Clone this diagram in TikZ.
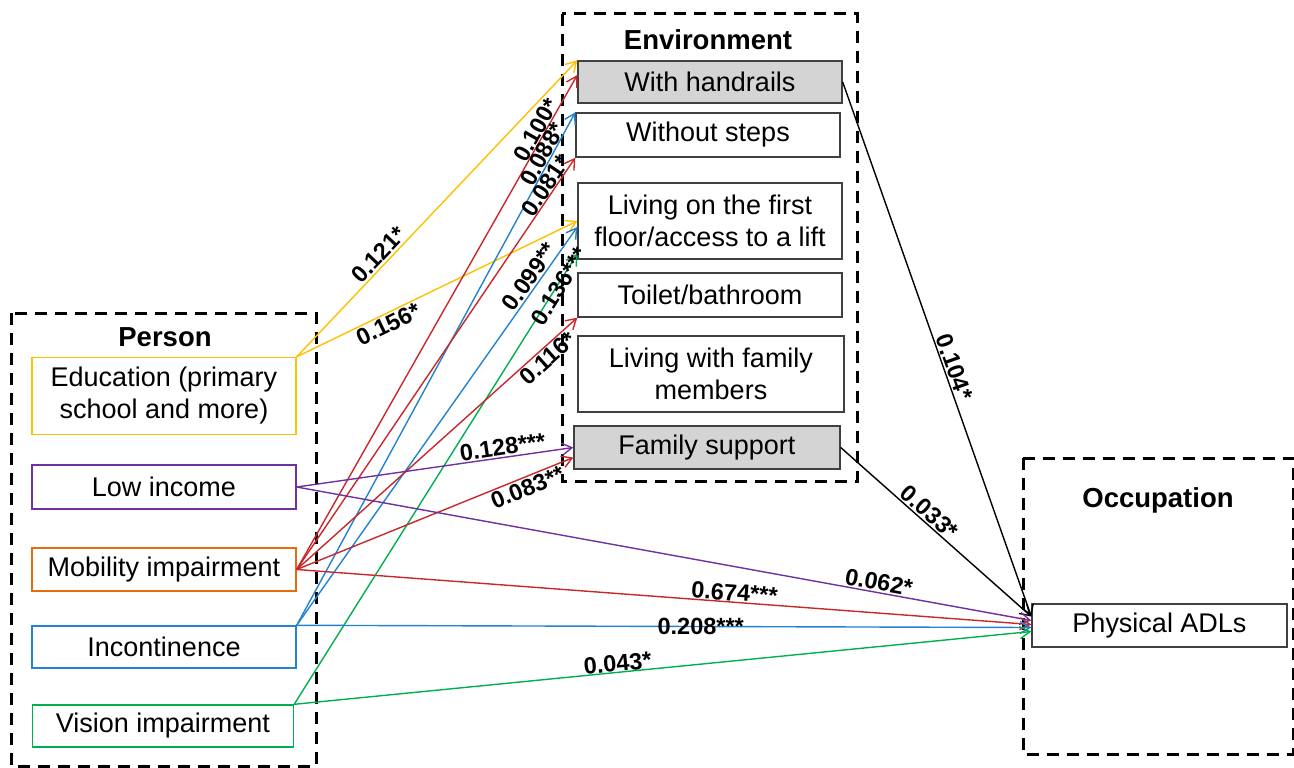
\documentclass[tikz,border=0pt]{standalone}
\usepackage{fontspec}
\setmainfont{Liberation Sans}
\usetikzlibrary{arrows.meta}

\definecolor{yel}{HTML}{FFC000}
\definecolor{pur}{HTML}{7030A0}
\definecolor{org}{HTML}{E46C0A}
\definecolor{rd}{HTML}{C8282A}
\definecolor{blu}{HTML}{2383D0}
\definecolor{grn}{HTML}{00B050}
\definecolor{edge}{HTML}{404040}

\begin{document}
\begin{tikzpicture}[x=1pt,y=-1pt,
    frame/.style={draw=black,line width=3pt,dash pattern=on 12pt off 8pt},
    box/.style={draw=#1,line width=1.4pt,inner sep=0pt,align=center,
      font=\fontsize{27}{32}\selectfont},
    head/.style={font=\fontsize{27.5}{30}\selectfont\bfseries},
    lab/.style={font=\fontsize{23.5}{25}\selectfont\bfseries,inner sep=1.5pt},
    link/.style={draw=#1,line width=1.4pt,-{Straight Barb[length=10pt,width=12pt]}}]
    \useasboundingbox (0,0) rectangle (1294,768);
    % frames
    \draw[frame] (11,313) rectangle (316,766);
    \draw[frame] (562,14) rectangle (857,481);
    \draw[frame] (1023,458) rectangle (1293,754);
    \node[head] (person) at (165,337) {Person};
    \node[head] (envir) at (708,40) {Environment};
    \node[head] (occup) at (1158,500) {Occupation};
    % person
    \node[box=yel,minimum width=264pt,minimum height=77pt] (edu) at (164,396) {Education (primary\\school and more)};
    \node[box=pur,minimum width=264pt,minimum height=44pt] (inc) at (164,487) {Low income};
    \node[box=org,minimum width=264pt,minimum height=43pt] (mob) at (164,569.5) {Mobility impairment};
    \node[box=blu,minimum width=264pt,minimum height=42pt] (inco) at (164,647) {Incontinence};
    \node[box=grn,minimum width=261pt,minimum height=42pt] (vis) at (163,726) {Vision impairment};
    % environment
    \node[box=edge,fill=black!17,minimum width=264pt,minimum height=42pt] (hand) at (710,82) {With handrails};
    \node[box=edge,minimum width=264pt,minimum height=44pt] (steps) at (708,135) {Without steps};
    \node[box=edge,minimum width=264pt,minimum height=76pt] (floor) at (710,221) {Living on the first\\floor/access to a lift};
    \node[box=edge,minimum width=264pt,minimum height=44pt] (toilet) at (710,295) {Toilet/bathroom};
    \node[box=edge,minimum width=266pt,minimum height=76pt] (family) at (711,374) {Living with family\\members};
    \node[box=edge,fill=black!17,minimum width=266pt,minimum height=43pt] (supp) at (707,447.5) {Family support};
    % occupation
    \node[box=edge,minimum width=255pt,minimum height=43pt] (adl) at (1159.5,625.5) {Physical ADLs};
    % paths
    \draw[link=yel] (edu.north east) -- node[lab,pos=0.32,sloped,above] {0.121*} (hand.north west);
    \draw[link=yel] (edu.north east) -- node[lab,pos=0.31,sloped,below] {0.156*} (floor.west);
    \draw[link=rd] (mob.east) -- node[lab,pos=0.88,sloped,above,inner sep=0pt] {0.100*} ([yshift=7pt]hand.west);
    \draw[link=blu] (inco.north east) -- node[lab,pos=0.91,sloped,above,inner sep=0pt] {0.088*} (steps.north west);
    \draw[link=rd] (mob.east) -- node[lab,pos=0.92,sloped,above,inner sep=0pt] {0.081*} (steps.south west);
    \draw[link=blu] (inco.north east) -- node[lab,pos=0.86,sloped,above] {0.099**} ([yshift=-6pt]floor.west);
    \draw[link=grn] (vis.north east) -- node[lab,pos=0.93,sloped,yshift=-2pt] {0.136***} ([yshift=6pt]floor.south west);
    \draw[link=rd] (mob.east) -- node[lab,pos=0.87,sloped,below] {0.116*} (toilet.south west);
    \draw[link=pur] (inc.east) -- node[lab,pos=0.75,sloped,above] {0.128***} (supp.west);
    \draw[link=rd] (mob.east) -- node[lab,pos=0.82,sloped,below] {0.083**} ([yshift=-10pt]supp.west);
    \draw[link=black] (hand.east) -- node[lab,pos=0.54,sloped,above] {0.104*} ([yshift=9pt]adl.west);
    \draw[link=black] (supp.east) -- node[lab,pos=0.43,sloped,above] {0.033*} ([yshift=9pt]adl.west);
    \draw[link=pur] (inc.east) -- node[lab,pos=0.79,sloped,above] {0.062*} ([yshift=5pt]adl.west);
    \draw[link=rd] (mob.east) -- node[lab,pos=0.595,sloped,above,inner sep=0.5pt] {0.674***} ([yshift=1pt]adl.west);
    \draw[link=blu] (inco.north east) -- node[lab,pos=0.55,sloped] {0.208***} ([yshift=-2pt]adl.west);
    \draw[link=grn] (vis.north east) -- node[lab,pos=0.44,sloped,above,inner sep=0pt] {0.043*} ([yshift=-6pt]adl.west);
\end{tikzpicture}
\end{document}
